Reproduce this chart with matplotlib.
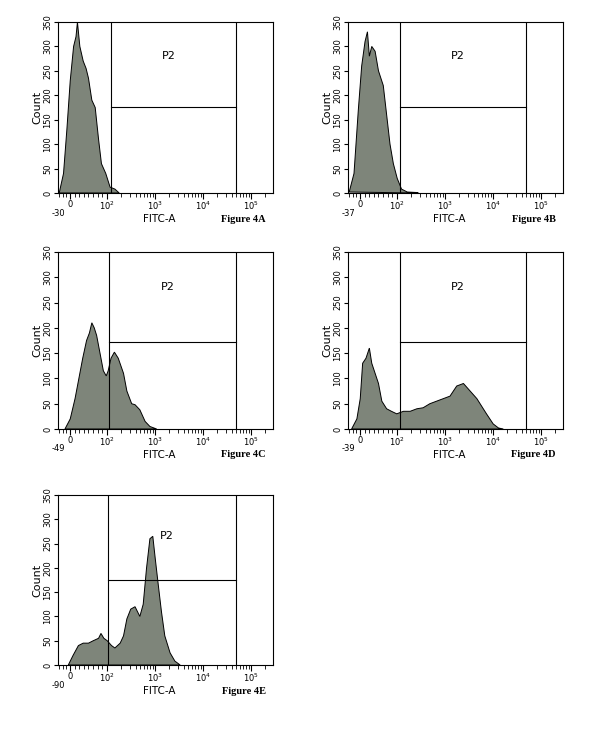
import matplotlib
matplotlib.use("Agg")
import matplotlib.pyplot as plt
import numpy as np

W, H = 600, 736
# x values in display decade units (10^2 -> 2, 10^3 -> 3 ...)
A_x = [1.01,1.10,1.17,1.24,1.31,1.36,1.39,1.44,1.51,1.57,1.62,1.69,1.76,1.83,1.89,1.98,2.07,2.17,2.26]
A_y = [0,40,130,230,300,320,350,300,270,255,235,190,175,110,60,40,12,8,0]
B_x = [1.01,1.11,1.20,1.27,1.34,1.39,1.43,1.48,1.55,1.62,1.72,1.79,1.86,1.93,2.01,2.10,2.22,2.42,2.45]
B_y = [2,40,170,260,310,330,280,300,290,250,220,160,100,60,30,8,2,1,0]
C_x = [1.13,1.24,1.34,1.44,1.50,1.58,1.64,1.69,1.74,1.79,1.86,1.93,1.99,2.03,2.09,2.16,2.24,2.35,2.42,2.52,2.59,2.69,2.80,2.90,3.04]
C_y = [0,20,60,110,140,175,190,210,200,185,150,115,105,115,140,152,140,110,75,50,48,38,15,5,0]
D_x = [1.06,1.17,1.24,1.29,1.36,1.43,1.48,1.55,1.62,1.69,1.79,1.89,2.00,2.14,2.28,2.42,2.55,2.69,2.83,2.97,3.11,3.25,3.39,3.53,3.67,3.77,3.87,4.01,4.12,4.22]
D_y = [0,20,60,130,140,160,130,110,90,55,40,35,30,35,35,40,42,50,55,60,65,85,90,75,60,45,30,10,2,0]
E_x = [1.20,1.30,1.41,1.51,1.62,1.72,1.83,1.88,1.94,2.01,2.10,2.17,2.28,2.35,2.42,2.50,2.59,2.69,2.76,2.83,2.90,2.96,3.01,3.08,3.14,3.21,3.32,3.42,3.53]
E_y = [0,20,40,45,45,50,55,65,55,50,40,35,45,60,95,115,120,100,125,200,260,265,220,160,110,60,25,8,0]

labels = ["Figure 4A", "Figure 4B", "Figure 4C", "Figure 4D", "Figure 4E"]
left_vals = ["-30", "-37", "-49", "-39", "-90"]
gate_lo = [2.09, 2.07, 2.05, 2.07, 2.03]
gate_hi = 4.69
gate_y = [176, 176, 172, 172, 175]
yticks = [0, 50, 100, 150, 200, 250, 300, 350]

# axes boxes in pixels: left, top, width, height
boxes = [(58, 22, 215, 171), (348, 22, 215, 171), (58, 252, 215, 177),
         (348, 252, 215, 177), (58, 495, 215, 170)]
data = [(A_x, A_y), (B_x, B_y), (C_x, C_y), (D_x, D_y), (E_x, E_y)]

XL, XR = 0.985, 0.985 + 215 / 48
fig = plt.figure(figsize=(W / 100, H / 100), dpi=100)
for i, ((l, t, w, h), (xs, ys)) in enumerate(zip(boxes, data)):
    ax = fig.add_axes([l / W, 1 - (t + h) / H, w / W, h / H])
    ax.fill(xs, ys, facecolor="#7e857a", edgecolor="black", linewidth=0.7)
    ax.set_xlim(XL, XR)
    ax.set_ylim(0, 350)
    ax.plot([gate_lo[i]] * 2, [0, 350], color="black", lw=0.8)
    ax.plot([gate_hi] * 2, [0, 350], color="black", lw=0.8)
    ax.plot([gate_lo[i], gate_hi], [gate_y[i]] * 2, color="black", lw=0.8)
    ax.text((gate_lo[i] + gate_hi) / 2 - 0.1, 280 if i < 4 else 265, "P2", fontsize=8,
            ha="center", va="center", family="DejaVu Sans")
    ax.set_yticks(yticks)
    ax.set_yticklabels([str(v) for v in yticks], rotation=90, fontsize=6, va="center")
    ax.set_ylabel("Count", fontsize=8, labelpad=1)
    zero = 1.235
    ax.set_xticks([zero, 2, 3, 4, 5])
    ax.set_xticklabels(["0", "$10^2$", "$10^3$", "$10^4$", "$10^5$"], fontsize=6)
    minor = [XL + 0.02, 1.08, 1.15] + list(np.linspace(zero, 2, 9)[1:-1]) + \
        [k + np.log10(m) for k in (2, 3, 4) for m in range(2, 10)] + [5.3]
    ax.set_xticks(minor, minor=True)
    ax.tick_params(axis="x", which="major", length=4, direction="out", pad=1)
    ax.tick_params(axis="x", which="minor", length=3, direction="out")
    ax.tick_params(axis="y", length=3, pad=1)
    s = 350 / h
    ax.text(XL, -20 * s, left_vals[i], fontsize=6, ha="center", va="center")
    ax.text(3.1, -26 * s, "FITC-A", fontsize=7.5, ha="center", va="center")
    ax.text(4.85, -26 * s, labels[i], fontsize=7.5, ha="center", va="center",
            family="Liberation Serif", fontweight="bold")
    for sp in ax.spines.values():
        sp.set_linewidth(0.8)
fig.savefig("out.png", dpi=100)
